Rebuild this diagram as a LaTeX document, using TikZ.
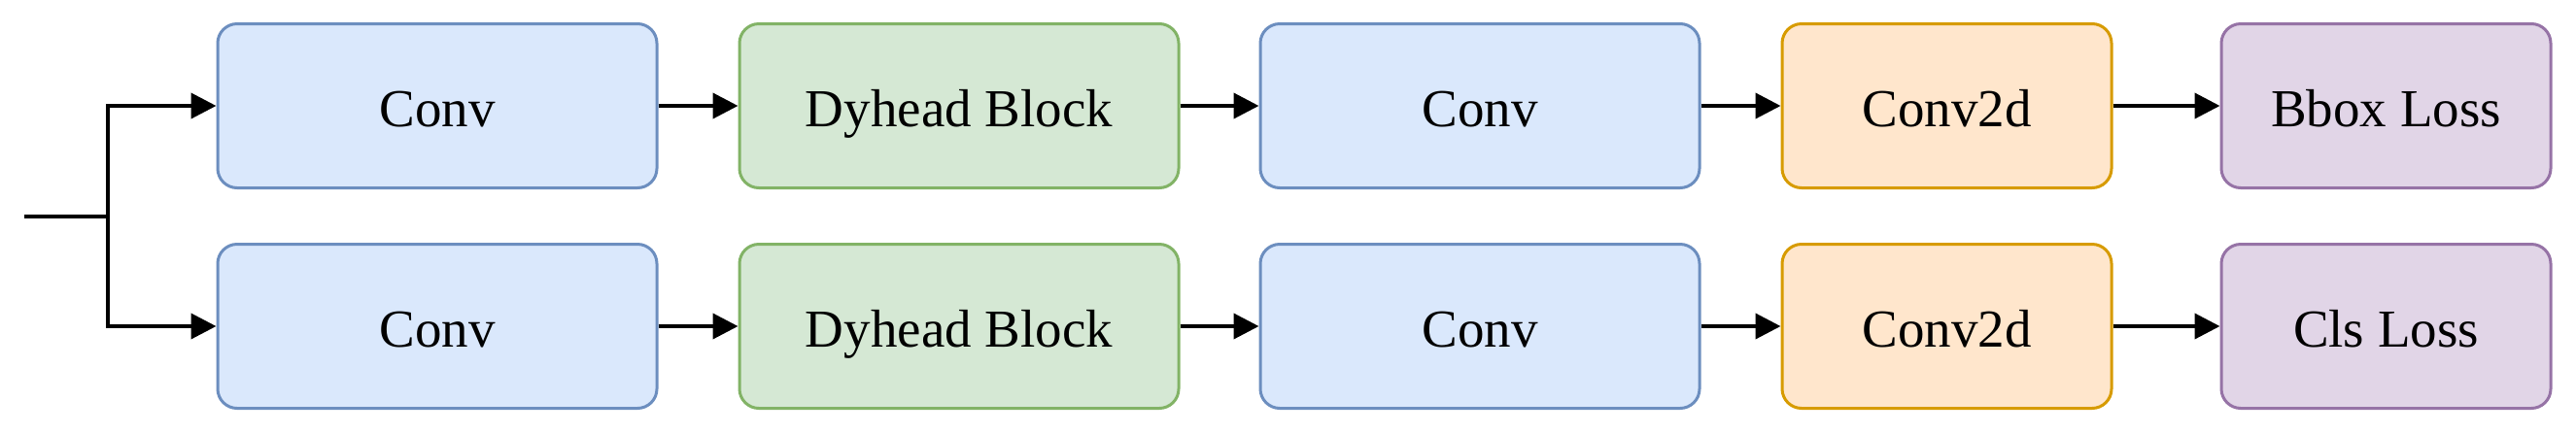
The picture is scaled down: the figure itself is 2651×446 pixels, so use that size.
\documentclass[tikz,border=0pt]{standalone}
\usepackage{fontspec}
\setmainfont{Liberation Serif}
\usetikzlibrary{arrows.meta,positioning}
\definecolor{cblue}{HTML}{DAE8FC}
\definecolor{cbluedraw}{HTML}{6C8EBF}
\definecolor{cgreen}{HTML}{D5E8D4}
\definecolor{cgreendraw}{HTML}{82B366}
\definecolor{corange}{HTML}{FFE6CC}
\definecolor{corangedraw}{HTML}{D79B00}
\definecolor{cpurple}{HTML}{E1D5E7}
\definecolor{cpurpledraw}{HTML}{9673A6}
\tikzset{
  blk/.style={rectangle,rounded corners=10pt,draw=#1draw,fill=#1,
    line width=1.5pt,minimum height=84.5pt,minimum width=226pt,
    inner sep=0pt,text height=21.7pt,text depth=0pt,
    font=\fontsize{27.5}{32}\selectfont},
  arr/.style={-{Triangle[length=13pt,width=13pt]},line width=2pt},
}
\begin{document}
\begin{tikzpicture}[
  x=0.5pt,y=-0.5pt,
  node distance=27.5pt and 41pt,
  small/.style={minimum width=169.5pt},
]
  \useasboundingbox (0,0) rectangle (2651,446);

  % bbox branch
  \node[blk=cblue] (conv1) at (450,109) {Conv};
  \node[blk=cgreen,right=of conv1] (dyh1) {Dyhead Block};
  \node[blk=cblue,right=40.5pt of dyh1] (convb1) {Conv};
  \node[blk=corange,small,right=of convb1] (c2d1) {Conv2d};
  \node[blk=cpurple,small,right=55pt of c2d1] (bbox) {Bbox Loss};

  % cls branch
  \node[blk=cblue,below=of conv1] (conv2) {Conv};
  \node[blk=cgreen,below=of dyh1] (dyh2) {Dyhead Block};
  \node[blk=cblue,below=of convb1] (convb2) {Conv};
  \node[blk=corange,small,below=of c2d1] (c2d2) {Conv2d};
  \node[blk=cpurple,small,below=of bbox] (cls) {Cls Loss};

  \coordinate (in) at (25,222.5);
  \coordinate (split) at (111,222.5);
  \draw[line width=2pt] (in) -- (split);
  \draw[arr] (split) |- (conv1.west);
  \draw[arr] (split) |- (conv2.west);

  \draw[arr] (conv1) -- (dyh1);
  \draw[arr] (dyh1) -- (convb1);
  \draw[arr] (convb1) -- (c2d1);
  \draw[arr] (c2d1) -- (bbox);
  \draw[arr] (conv2) -- (dyh2);
  \draw[arr] (dyh2) -- (convb2);
  \draw[arr] (convb2) -- (c2d2);
  \draw[arr] (c2d2) -- (cls);
\end{tikzpicture}
\end{document}
